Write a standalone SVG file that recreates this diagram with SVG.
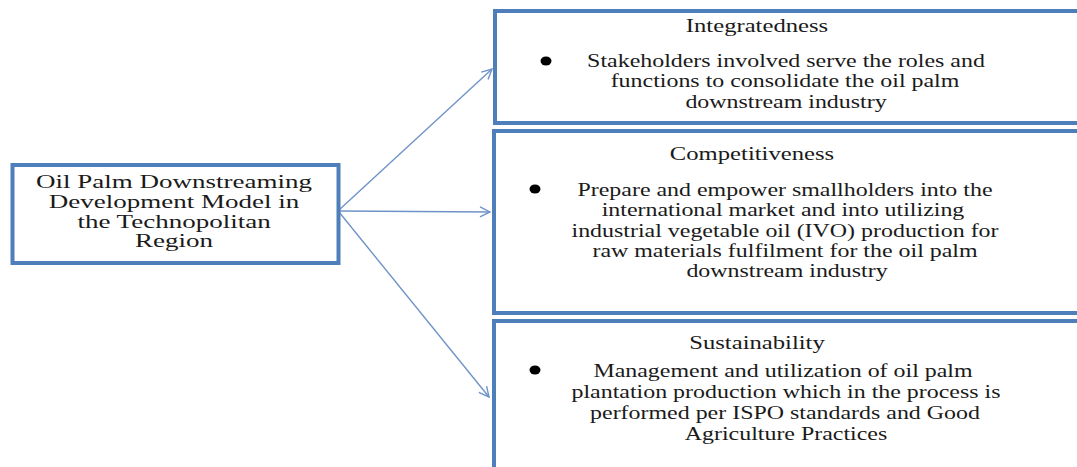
<svg xmlns="http://www.w3.org/2000/svg" width="1077" height="467" viewBox="0 0 1077 467">
  <defs>
    <style>
      .box { fill: #ffffff; stroke: #4f7fba; stroke-width: 4; }
      .t { font-family: "Liberation Serif", "Times New Roman", serif; font-size: 18px; fill: #1a1a1a; text-anchor: middle; }
      .link { stroke: #6f93c8; stroke-width: 1.4; fill: none; marker-end: url(#open); }
      .dot { fill: #000000; }
    </style>
    <marker id="open" viewBox="0 0 12 12" refX="11" refY="6" markerWidth="12" markerHeight="12" markerUnits="userSpaceOnUse" orient="auto">
      <path d="M1,1 L11,6 L1,11" fill="none" stroke="#6f93c8" stroke-width="1.4"/>
    </marker>
  </defs>
  <rect width="1077" height="467" fill="#ffffff"/>

  <g id="connectors">
    <line class="link" x1="339" y1="210" x2="492" y2="69"/>
    <line class="link" x1="339" y1="211" x2="490" y2="212"/>
    <line class="link" x1="339" y1="212" x2="489" y2="397"/>
  </g>

  <!-- left box: wide serif lettering -->
  <g id="model">
    <rect class="box" x="12.5" y="165" width="326" height="98"/>
    <text class="t" transform="translate(174,188) scale(1.5,1)">Oil Palm Downstreaming</text>
    <text class="t" transform="translate(174,208) scale(1.5,1)">Development Model in</text>
    <text class="t" transform="translate(174,228) scale(1.5,1)">the Technopolitan</text>
    <text class="t" transform="translate(174,247) scale(1.5,1)">Region</text>
  </g>

  <g id="integratedness">
    <rect class="box" x="495" y="11" width="600" height="112"/>
    <text class="t" transform="translate(757,32) scale(1.37,1)">Integratedness</text>
    <ellipse class="dot" cx="546" cy="61" rx="5.5" ry="4.6"/>
    <text class="t" transform="translate(786,67) scale(1.33,1)">Stakeholders involved serve the roles and</text>
    <text class="t" transform="translate(785,87) scale(1.33,1)">functions to consolidate the oil palm</text>
    <text class="t" transform="translate(786,107.5) scale(1.33,1)">downstream industry</text>
  </g>

  <g id="competitiveness">
    <rect class="box" x="494" y="131" width="600" height="182"/>
    <text class="t" transform="translate(752,160) scale(1.37,1)">Competitiveness</text>
    <ellipse class="dot" cx="535" cy="189" rx="5.5" ry="4.6"/>
    <text class="t" transform="translate(785,196) scale(1.33,1)">Prepare and empower smallholders into the</text>
    <text class="t" transform="translate(783,216) scale(1.33,1)">international market and into utilizing</text>
    <text class="t" transform="translate(785,237) scale(1.33,1)">industrial vegetable oil (IVO) production for</text>
    <text class="t" transform="translate(785,257) scale(1.33,1)">raw materials fulfilment for the oil palm</text>
    <text class="t" transform="translate(787,277) scale(1.33,1)">downstream industry</text>
  </g>

  <g id="sustainability">
    <rect class="box" x="494" y="321" width="600" height="160"/>
    <text class="t" transform="translate(757,349) scale(1.37,1)">Sustainability</text>
    <ellipse class="dot" cx="535" cy="370" rx="5.5" ry="4.6"/>
    <text class="t" transform="translate(783,377) scale(1.33,1)">Management and utilization of oil palm</text>
    <text class="t" transform="translate(786,398) scale(1.33,1)">plantation production which in the process is</text>
    <text class="t" transform="translate(785,419) scale(1.33,1)">performed per ISPO standards and Good</text>
    <text class="t" transform="translate(786,440) scale(1.33,1)">Agriculture Practices</text>
  </g>
</svg>
